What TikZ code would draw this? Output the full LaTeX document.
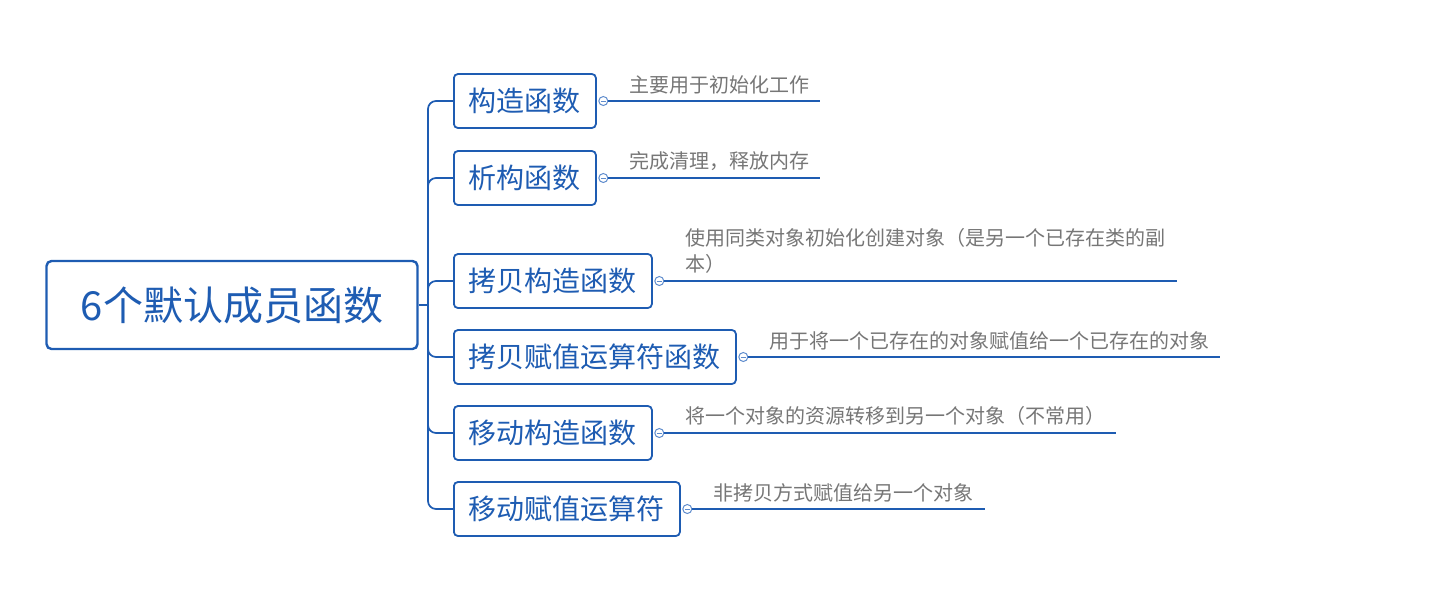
\documentclass[tikz,border=0pt]{standalone}
\usepackage{fontspec}
\newfontfamily\cjk{Noto Sans CJK SC}
\usetikzlibrary{positioning,calc}
\definecolor{mapblue}{RGB}{30,92,178}
\definecolor{knobblue}{RGB}{95,140,205}
\definecolor{notegray}{RGB}{118,118,118}

\begin{document}
\begin{tikzpicture}[x=1pt,y=-1pt,
    rootbox/.style={draw=mapblue, line width=2.4pt, rounded corners=5pt, text=mapblue,
        font=\cjk\fontsize{40}{46}\selectfont, minimum width=371pt, minimum height=88pt, inner sep=0pt},
    topic/.style={draw=mapblue, line width=1.8pt, rounded corners=4pt, text=mapblue,
        font=\cjk\fontsize{28}{32}\selectfont, minimum height=54pt, inner xsep=15pt, anchor=west},
    knob/.style={circle, draw=knobblue, fill=white, line width=1pt, minimum size=9pt, inner sep=0pt,
        path picture={\draw[knobblue, line width=0.7pt] ([xshift=2pt]path picture bounding box.west) -- ([xshift=-2pt]path picture bounding box.east);}},
    note/.style={text=notegray, font=\cjk\fontsize{20}{26}\selectfont, inner sep=0pt, align=left},
    branch/.style={draw=mapblue, line width=1.7pt}]

    % Canvas
    \useasboundingbox (0,0) rectangle (1435,598);

    % Root
    \node[rootbox] (root) at (232,305) {6个默认成员函数};
    \coordinate (hub) at (428,305);
    \draw[branch] (root.east) -- (hub);

    % Topics
    \node[topic] (ctor) at (453,101) {构造函数};
    \node[topic] (dtor) at (453,178) {析构函数};
    \node[topic] (copyctor) at (453,281) {拷贝构造函数};
    \node[topic] (copyassign) at (453,357) {拷贝赋值运算符函数};
    \node[topic] (movector) at (453,433) {移动构造函数};
    \node[topic] (moveassign) at (453,509) {移动赋值运算符};

    % Trunk
    \draw[branch, rounded corners=8pt] (hub) |- (ctor.west);
    \draw[branch, rounded corners=8pt] (hub) |- (dtor.west);
    \draw[branch, rounded corners=8pt] (hub) |- (copyctor.west);
    \draw[branch, rounded corners=8pt] (hub) |- (copyassign.west);
    \draw[branch, rounded corners=8pt] (hub) |- (movector.west);
    \draw[branch, rounded corners=8pt] (hub) |- (moveassign.west);

    % Knobs
    \node[knob, right=1.5pt of ctor] (k1) {};
    \node[knob, right=1.5pt of dtor] (k2) {};
    \node[knob, right=1.5pt of copyctor] (k3) {};
    \node[knob, right=1.5pt of copyassign] (k4) {};
    \node[knob, right=1.5pt of movector] (k5) {};
    \node[knob, right=1.5pt of moveassign] (k6) {};

    % Line ends
    \coordinate (e1) at (820,101);
    \coordinate (e2) at (820,178);
    \coordinate (e3) at (1177,281);
    \coordinate (e4) at (1220,357);
    \coordinate (e5) at (1116,433);
    \coordinate (e6) at (985,509);
    \draw[branch] (k1.east) -- (e1);
    \draw[branch] (k2.east) -- (e2);
    \draw[branch] (k3.east) -- (e3);
    \draw[branch] (k4.east) -- (e4);
    \draw[branch] (k5.east) -- (e5);
    \draw[branch] (k6.east) -- (e6);

    % Notes
    \node[note, above right=7pt and 21pt of k1.east] (n1) {主要用于初始化工作};
    \node[note, above right=7pt and 21pt of k2.east] (n2) {完成清理，释放内存};
    \node[note, above right=7pt and 21pt of k3.east] (n3) {使用同类对象初始化创建对象（是另一个已存在类的副\\本）};
    \node[note, above right=7pt and 21pt of k4.east] (n4) {用于将一个已存在的对象赋值给一个已存在的对象};
    \node[note, above right=7pt and 21pt of k5.east] (n5) {将一个对象的资源转移到另一个对象（不常用）};
    \node[note, above right=7pt and 21pt of k6.east] (n6) {非拷贝方式赋值给另一个对象};
\end{tikzpicture}
\end{document}
